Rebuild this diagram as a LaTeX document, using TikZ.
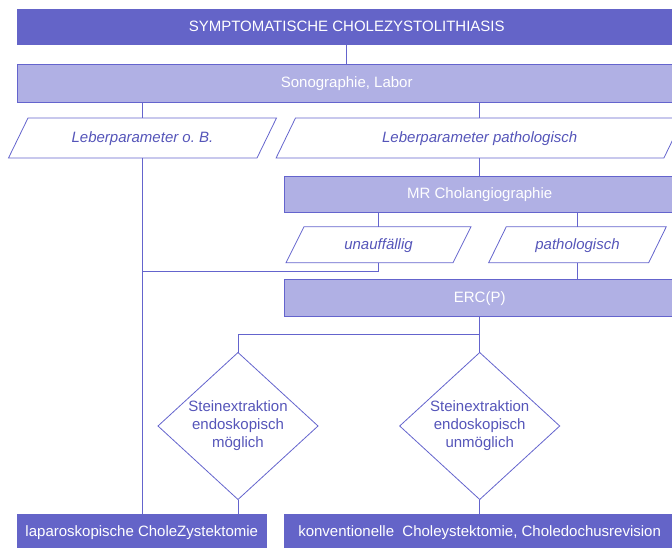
\documentclass[tikz,border=0pt]{standalone}
\usepackage{fontspec}
\setmainfont{Liberation Sans}
\usetikzlibrary{calc}
\definecolor{dark}{RGB}{100,100,200}
\definecolor{light}{RGB}{176,176,228}
\definecolor{edge}{RGB}{100,100,205}
\definecolor{ink}{RGB}{85,85,185}
% slanted outline around a node: #1 node name, #2 horizontal offset of the corners
\newcommand\slantbox[2]{%
  \draw[conn] ($(#1.south west)+(-#2,0)$) -- ($(#1.south east)+(-#2,0)$)
    -- ($(#1.north east)+(#2,0)$) -- ($(#1.north west)+(#2,0)$) -- cycle;}
% diamond outline through the four side anchors of a node
\newcommand\diamondbox[1]{%
  \draw[conn] (#1.north) -- (#1.east) -- (#1.south) -- (#1.west) -- cycle;}
\begin{document}
\begin{tikzpicture}[x=1pt,y=-1pt,
  every node/.style={font=\fontsize{15}{18}\selectfont, inner sep=0pt, outer sep=0pt},
  oneline/.style={text height=11.5pt, text depth=2.5pt},
  darkbox/.style={oneline, fill=dark, text=white, minimum height=36},
  lightbox/.style={oneline, fill=light, draw=edge, line width=0.8pt, text=white},
  slanttext/.style={oneline, text=ink, font=\fontsize{15}{18}\selectfont\itshape},
  decision/.style={text=ink, align=center, minimum width=160, minimum height=147},
  conn/.style={draw=edge, line width=0.8pt}]
\useasboundingbox (0,0) rectangle (672,548);
\clip (0,0) rectangle (672,548);

% rectangular steps
\node[darkbox, minimum width=659] (top) at (346.7,27) {SYMPTOMATISCHE CHOLEZYSTOLITHIASIS};
\node[lightbox, minimum width=659, minimum height=38] (sono) at (346.7,83.3) {Sonographie, Labor};
\node[lightbox, minimum width=391, minimum height=36] (mr) at (479.7,194.3) {MR Cholangiographie};
\node[lightbox, minimum width=391, minimum height=36.6] (erc) at (479.7,298) {ERC(P)};
\node[darkbox, minimum width=249.6] (b1) at (141.8,532) {laparoskopische CholeZystektomie};
\node[darkbox, minimum width=391] (b2) at (479.6,532) {konventionelle\ \ Choleystektomie, Choledochusrevision};

% findings
\node[slanttext, minimum width=248.5, minimum height=40] (p1) at (142.5,138) {Leberparameter o.\ B.};
\node[slanttext, minimum width=387.8, minimum height=40] (p2) at (479.7,138) {Leberparameter pathologisch};
\node[slanttext, minimum width=167, minimum height=36] (p3) at (378.5,244.7) {unauffällig};
\node[slanttext, minimum width=160, minimum height=36] (p4) at (577.5,244.7) {pathologisch};
\slantbox{p1}{9.75}
\slantbox{p2}{9.7}
\slantbox{p3}{9}
\slantbox{p4}{8.8}

% decisions
\node[decision] (d1) at (238,426) {Steinextraktion\\endoskopisch\\möglich};
\node[decision] (d2) at (479.7,426) {Steinextraktion\\endoskopisch\\unmöglich};
\diamondbox{d1}
\diamondbox{d2}

% connectors
\draw[conn] (top.south) -- (sono.north);
\draw[conn] (sono.south -| p1.north) -- (p1.north);
\draw[conn] (sono.south -| p2.north) -- (p2.north);
\draw[conn] (p1.south) -- (p1.south |- b1.north);
\draw[conn] (p2.south) -- (p2.south |- mr.north);
\draw[conn] (mr.south -| p3.north) -- (p3.north);
\draw[conn] (mr.south -| p4.north) -- (p4.north);
\coordinate (merge) at (142.5,271.3);
\draw[conn] (p3.south) |- (merge);
\draw[conn] (p4.south) -- (p4.south |- erc.north);
\coordinate (fork) at (479.7,334);
\draw[conn] (erc.south) -- (fork) -| (d1.north);
\draw[conn] (fork) -- (d2.north);
\draw[conn] (d1.south) -- (d1.south |- b1.north);
\draw[conn] (d2.south) -- (d2.south |- b2.north);
\end{tikzpicture}
\end{document}
